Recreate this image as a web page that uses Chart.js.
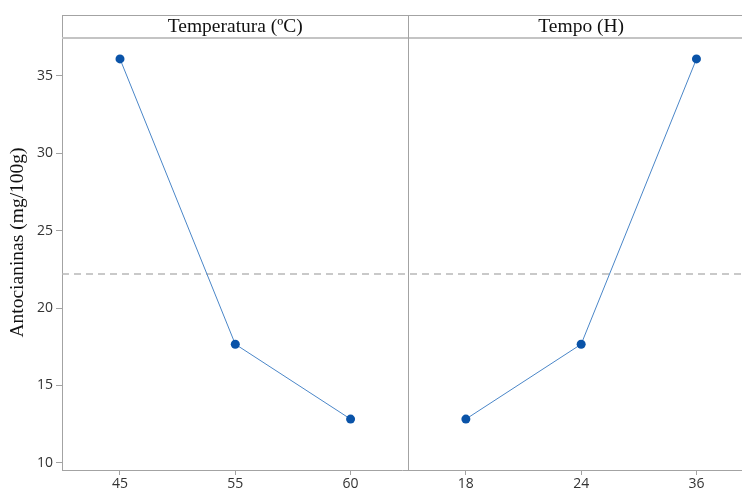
<!DOCTYPE html>
<html>
<head>
<meta charset="utf-8">
<script src="https://cdn.jsdelivr.net/npm/chart.js@4.4.0/dist/chart.umd.min.js"></script>
<style>
  html, body { margin: 0; padding: 0; background: #fff; overflow: hidden; }
  #wrap { width: 742px; height: 492px; overflow: hidden; }
</style>
</head>
<body>
<div id="wrap"><canvas id="c" width="742" height="492"></canvas></div>
<script>
// ---- data ----
const panelTitles = ['Temperatura (ºC)', 'Tempo (H)'];
const tempLabels = ['45', '55', '60'];
const tempValues = [36.1, 17.66, 12.82];
const tempoLabels = ['18', '24', '36'];
const tempoValues = [12.82, 17.66, 36.1];
const yTicks = [10, 15, 20, 25, 30, 35];
const yTitle = 'Antocianinas (mg/100g)';

const allLabels = tempLabels.concat(tempoLabels);
const meanValue = tempValues.reduce((a, b) => a + b, 0) / tempValues.length;

const tempPoints = tempValues.map((v, i) => ({ x: i, y: v }));
const tempoPoints = tempoValues.map((v, i) => ({ x: i + tempLabels.length, y: v }));

const axisGray = '#a3a3a3';
const tickFont = { family: '"Open Sans", "Noto Sans", sans-serif', size: 14 };

const panelPlugin = {
  id: 'panels',
  beforeDatasetsDraw(chart) {
    const { ctx, chartArea: a, scales: { x, y } } = chart;
    ctx.save();
    // mean dashed line
    const my = y.getPixelForValue(meanValue);
    ctx.strokeStyle = '#b8b8b8';
    ctx.lineWidth = 1.5;
    ctx.setLineDash([7, 5]);
    ctx.beginPath();
    ctx.moveTo(a.left, my);
    ctx.lineTo(a.right, my);
    ctx.stroke();
    ctx.setLineDash([]);
    // header strip
    const hb = a.top + 23;
    ctx.strokeStyle = axisGray;
    ctx.lineWidth = 1;
    ctx.beginPath();
    ctx.moveTo(a.left, a.top + 0.5);
    ctx.lineTo(a.right, a.top + 0.5);
    ctx.stroke();
    ctx.strokeStyle = '#c4c4c4';
    ctx.lineWidth = 2;
    ctx.beginPath();
    ctx.moveTo(a.left, hb);
    ctx.lineTo(a.right, hb);
    ctx.stroke();
    // divider
    const dx = Math.round(x.getPixelForValue(tempLabels.length - 0.5)) + 0.5;
    ctx.strokeStyle = axisGray;
    ctx.lineWidth = 1;
    ctx.beginPath();
    ctx.moveTo(dx, a.top);
    ctx.lineTo(dx, a.bottom);
    ctx.stroke();
    // panel titles
    ctx.fillStyle = '#111';
    ctx.font = '19.5px "Liberation Serif", "Times New Roman", serif';
    ctx.textAlign = 'center';
    ctx.textBaseline = 'middle';
    const c1 = x.getPixelForValue((tempLabels.length - 1) / 2);
    const c2 = x.getPixelForValue(tempLabels.length + (tempoLabels.length - 1) / 2);
    ctx.fillText(panelTitles[0], c1, a.top + 12);
    ctx.fillText(panelTitles[1], c2, a.top + 12);
    ctx.restore();
  }
};

new Chart(document.getElementById('c'), {
  type: 'line',
  data: {
    datasets: [
      { data: tempPoints },
      { data: tempoPoints }
    ]
  },
  options: {
    responsive: false,
    animation: false,
    layout: { autoPadding: false, padding: { top: 15, right: 0, bottom: 0, left: 0 } },
    plugins: { legend: { display: false }, tooltip: { enabled: false } },
    elements: {
      line: { borderColor: '#4a86c8', borderWidth: 1, tension: 0 },
      point: { radius: 4.5, backgroundColor: '#0a53a8', borderColor: '#0a53a8', borderWidth: 0 }
    },
    scales: {
      x: {
        type: 'linear',
        min: -0.503,
        max: 5.395,
        afterFit(s) { s.height = 22; s.paddingLeft = 0; s.paddingRight = 0; },
        afterBuildTicks(s) { s.ticks = allLabels.map((l, i) => ({ value: i })); },
        ticks: {
          autoSkip: false,
          maxRotation: 0,
          padding: 1,
          color: '#333',
          font: tickFont,
          callback: (v) => allLabels[v]
        },
        grid: { drawOnChartArea: false, drawTicks: true, tickLength: 5, color: axisGray },
        border: { color: axisGray, width: 1 }
      },
      y: {
        min: 9.53,
        max: 38.94,
        afterFit(s) { s.width = 62; s.paddingTop = 0; s.paddingBottom = 0; },
        afterBuildTicks(s) { s.ticks = yTicks.map(v => ({ value: v })); },
        ticks: {
          padding: 3,
          color: '#333',
          font: tickFont
        },
        grid: { drawOnChartArea: false, drawTicks: true, tickLength: 6, color: axisGray },
        border: { color: axisGray, width: 1 },
        title: {
          display: true,
          text: yTitle,
          color: '#111',
          font: { family: '"Liberation Serif", "Times New Roman", serif', size: 19.5 },
          padding: { top: 6, bottom: 0 }
        }
      }
    }
  },
  plugins: [panelPlugin]
});
</script>
</body>
</html>
